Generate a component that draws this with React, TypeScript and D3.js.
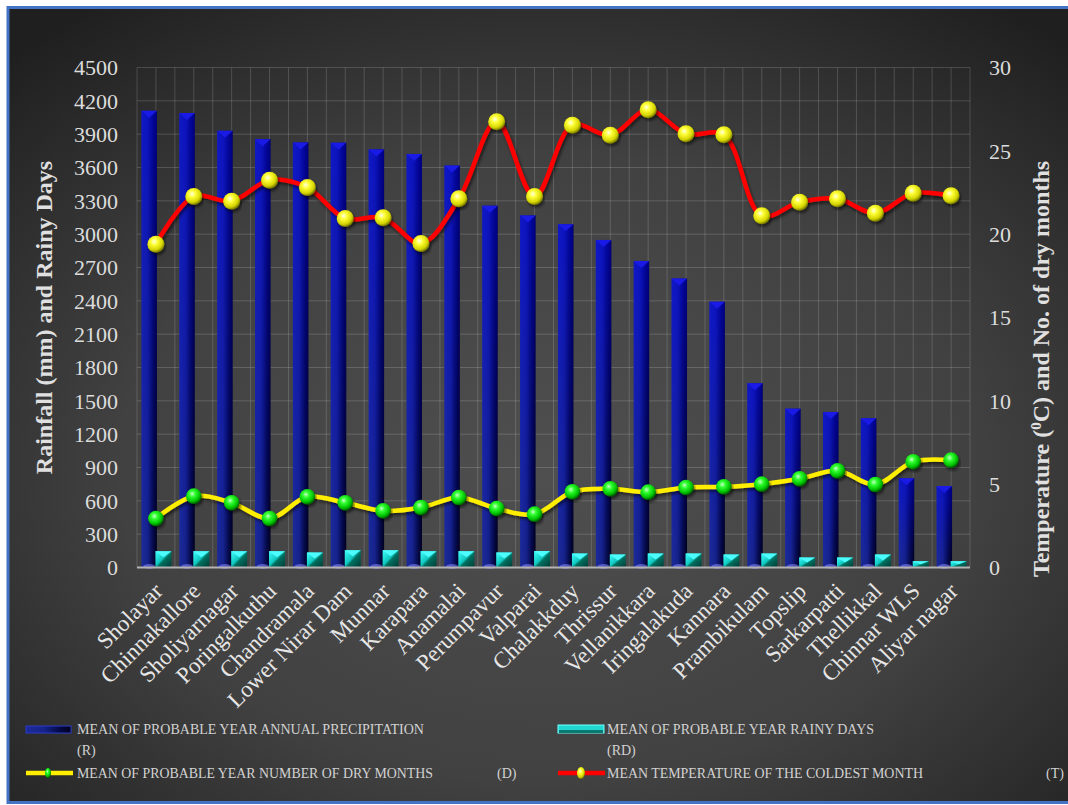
import React from "react";
import * as d3 from "d3";

const categories = [
  "Sholayar", "Chinnakallore", "Sholiyarnagar", "Poringalkuthu", "Chandramala",
  "Lower Nirar Dam", "Munnar", "Karapara", "Anamalai", "Perumpavur", "Valparai",
  "Chalakkduy", "Thrissur", "Vellanikkara", "Iringalakuda", "Kannara",
  "Prambikulam", "Topslip", "Sarkarpatti", "Thellikkal", "Chinnar WLS", "Aliyar nagar",
];
const rainfall = [4110, 4090, 3930, 3855, 3825, 3823, 3763, 3722, 3617, 3256, 3168, 3089, 2948, 2759, 2600, 2392, 1658, 1429, 1400, 1343, 803, 733];
const rainyDays = [147, 147, 147, 147, 135, 156, 156, 147, 147, 135, 148, 126, 117, 126, 126, 117, 126, 90, 90, 117, 57, 57];
const dryMonths = [2.94, 4.28, 3.88, 2.94, 4.24, 3.88, 3.4, 3.6, 4.2, 3.54, 3.2, 4.54, 4.72, 4.52, 4.8, 4.84, 5.0, 5.32, 5.8, 4.98, 6.34, 6.44];
const temperature = [19.4, 22.26, 21.98, 23.24, 22.8, 20.94, 20.98, 19.44, 22.12, 26.74, 22.26, 26.54, 25.94, 27.46, 26.02, 25.96, 21.1, 21.92, 22.12, 21.26, 22.46, 22.3];
const leftTicks = d3.range(0, 4501, 300);
const rightTicks = [0, 5, 10, 15, 20, 25, 30];

const W = 1068;
const H = 805;
const PL = 137, PR = 970, PT = 67.5, PB = 567.5;
const serif = '"Liberation Serif", "Times New Roman", "DejaVu Serif", serif';

export default function App() {
  const x = d3.scaleBand<string>().domain(categories).range([PL, PR]).padding(0);
  const bw = x.bandwidth();
  const yL = d3.scaleLinear().domain([0, 4500]).range([PB, PT]);
  const yR = d3.scaleLinear().domain([0, 30]).range([PB, PT]);
  const cx = (i: number) => (x(categories[i]) as number) + bw / 2;

  const curve = d3.curveCatmullRom.alpha(0.5);
  const tempLine = d3.line<number>().x((_, i) => cx(i)).y((d) => yR(d)).curve(curve)(temperature) || "";
  const dryLine = d3.line<number>().x((_, i) => cx(i)).y((d) => yR(d)).curve(curve)(dryMonths) || "";

  const vGrid = d3.range(0, categories.length * 2 + 1).map((k) => PL + (k * bw) / 2);

  const barW = 15.5;
  const tf = { fontFamily: serif };

  return (
    <svg width={W} height={H} style={{ position: "absolute", left: 0, top: 0, fontFamily: serif }}>
      <defs>
        <radialGradient id="bg" cx="50%" cy="58%" r="72%">
          <stop offset="0%" stopColor="#4f4f4f" />
          <stop offset="55%" stopColor="#414141" />
          <stop offset="100%" stopColor="#1f1f1f" />
        </radialGradient>
        <linearGradient id="blueBar" x1="0" y1="0" x2="1" y2="0">
          <stop offset="0%" stopColor="#1c2b98" />
          <stop offset="40%" stopColor="#16238a" />
          <stop offset="75%" stopColor="#050a45" />
          <stop offset="100%" stopColor="#00001a" />
        </linearGradient>
        <linearGradient id="blueOver" x1="0" y1="0" x2="0" y2="1">
          <stop offset="0%" stopColor="#0000ff" stopOpacity="0.45" />
          <stop offset="100%" stopColor="#0000ff" stopOpacity="0" />
        </linearGradient>
        <linearGradient id="cyanBar" x1="0" y1="0" x2="1" y2="1">
          <stop offset="0%" stopColor="#40ffff" />
          <stop offset="45%" stopColor="#10c8c0" />
          <stop offset="55%" stopColor="#007060" />
          <stop offset="100%" stopColor="#003a34" />
        </linearGradient>
        <radialGradient id="yball" cx="40%" cy="35%" r="65%">
          <stop offset="0%" stopColor="#ffffe6" />
          <stop offset="30%" stopColor="#ffff3a" />
          <stop offset="75%" stopColor="#d4d400" />
          <stop offset="100%" stopColor="#767600" />
        </radialGradient>
        <radialGradient id="gball" cx="40%" cy="35%" r="65%">
          <stop offset="0%" stopColor="#c8ffc8" />
          <stop offset="30%" stopColor="#30ff30" />
          <stop offset="75%" stopColor="#00c000" />
          <stop offset="100%" stopColor="#005a00" />
        </radialGradient>
        <filter id="shadow" x="-10%" y="-10%" width="120%" height="130%">
          <feDropShadow dx="1.5" dy="2.5" stdDeviation="1.5" floodColor="#000" floodOpacity="0.55" />
        </filter>
      </defs>

      {/* frame */}
      <rect x={8} y={7.5} width={W + 10} height={795} fill="url(#bg)" stroke="#4472c4" strokeWidth={3} />

      {/* gridlines */}
      <g stroke="#ffffff" strokeOpacity={0.16} strokeWidth={1}>
        {leftTicks.map((t) => (
          <line key={"h" + t} x1={PL} x2={PR} y1={yL(t)} y2={yL(t)} />
        ))}
        {vGrid.map((gx, k) => (
          <line key={"v" + k} x1={gx} x2={gx} y1={PT} y2={PB} />
        ))}
      </g>

      {/* blue bars */}
      {rainfall.map((v, i) => {
        const bx = cx(i) - 14.5;
        const top = yL(v);
        return (
          <g key={"b" + i}>
            <rect x={bx} y={top} width={barW} height={PB - top} fill="url(#blueBar)" />
            <rect x={bx} y={top} width={barW} height={PB - top} fill="url(#blueOver)" />
            <polygon points={`${bx},${top} ${bx + barW},${top} ${bx + barW / 2},${top + 7}`} fill="#1a1ae6" />
            <ellipse cx={bx + barW / 2} cy={PB - 1} rx={6} ry={2.5} fill="#8a8aff" fillOpacity={0.55} />
          </g>
        );
      })}

      {/* cyan bars */}
      {rainyDays.map((v, i) => {
        const bx = cx(i) - 0.5;
        const top = yL(v);
        const h = PB - top;
        return (
          <g key={"c" + i}>
            <rect x={bx} y={top} width={barW + 0.5} height={h} fill="url(#cyanBar)" />
            <polygon points={`${bx},${top} ${bx + barW + 0.5},${top} ${bx + (barW + 0.5) / 2},${top + Math.min(6, h / 2)}`} fill="#4dfcfc" />
          </g>
        );
      })}

      {/* baseline */}
      <line x1={PL} x2={PR} y1={PB} y2={PB} stroke="#b4b4b4" strokeWidth={2} />

      {/* dry months line */}
      <path d={dryLine} fill="none" stroke="#ffee00" strokeWidth={4.5} filter="url(#shadow)" />
      {dryMonths.map((v, i) => (
        <circle key={"d" + i} cx={cx(i)} cy={yR(v)} r={7.8} fill="url(#gball)" filter="url(#shadow)" />
      ))}

      {/* temperature line */}
      <path d={tempLine} fill="none" stroke="#ff0000" strokeWidth={4.5} filter="url(#shadow)" />
      {temperature.map((v, i) => (
        <circle key={"t" + i} cx={cx(i)} cy={yR(v)} r={8.5} fill="url(#yball)" filter="url(#shadow)" />
      ))}

      {/* left axis ticks */}
      <g fill="#dcdcdc" fontSize={22} textAnchor="end" style={tf}>
        {leftTicks.map((t) => (
          <text key={"lt" + t} x={118} y={yL(t)} dy="0.35em" style={tf}>{t}</text>
        ))}
      </g>
      {/* right axis ticks */}
      <g fill="#dcdcdc" fontSize={22} textAnchor="start" style={tf}>
        {rightTicks.map((t) => (
          <text key={"rt" + t} x={989} y={yR(t)} dy="0.35em" style={tf}>{t}</text>
        ))}
      </g>

      {/* axis titles */}
      <text transform={`translate(52,${(110 + 525) / 2}) rotate(-90)`} textAnchor="middle" fontSize={24} fontWeight="bold" fill="#e0e0e0" style={tf}>
        Rainfall (mm) and Rainy Days
      </text>
      <text transform={`translate(1049,${(148 + 590) / 2}) rotate(-90)`} textAnchor="middle" fontSize={24} fontWeight="bold" fill="#e0e0e0" style={tf}>
        Temperature (<tspan dy="-8" fontSize={15}>0</tspan><tspan dy="8">C) and No. of dry months</tspan>
      </text>

      {/* category labels */}
      <g fill="#e6e6e6" fontSize={23} textAnchor="end" style={tf}>
        {categories.map((c, i) => (
          <text key={"x" + i} transform={`translate(${cx(i) + 8},${PB + 25}) rotate(-45)`} style={tf}>{c}</text>
        ))}
      </g>

      {/* legend */}
      <g fontSize={14} fill="#d2d2d2" style={tf}>
        <rect x={26} y={726} width={45} height={7} fill="url(#blueBar)" stroke="#2a3ad0" strokeWidth={1} />
        <text x={77} y={734} textLength={347} lengthAdjust="spacingAndGlyphs" style={tf}>MEAN OF PROBABLE YEAR ANNUAL PRECIPITATION</text>
        <text x={77} y={755} style={tf}>(R)</text>

        <rect x={558} y={725} width={46} height={8} fill="#20d8d0" stroke="#70ffff" strokeWidth={1} />
        <rect x={559} y={730} width={44} height={3} fill="#0a7a70" />
        <text x={607} y={734} textLength={267} lengthAdjust="spacingAndGlyphs" style={tf}>MEAN OF PROBABLE YEAR RAINY DAYS</text>
        <text x={607} y={755} style={tf}>(RD)</text>

        <line x1={26} x2={73} y1={773} y2={773} stroke="#ffee00" strokeWidth={4.5} />
        <ellipse cx={48} cy={773} rx={3} ry={5} fill="url(#gball)" />
        <text x={77} y={778} textLength={356} lengthAdjust="spacingAndGlyphs" style={tf}>MEAN OF PROBABLE YEAR NUMBER OF DRY MONTHS</text>
        <text x={497} y={778} style={tf}>(D)</text>

        <line x1={558} x2={605} y1={773} y2={773} stroke="#ff0000" strokeWidth={4.5} />
        <ellipse cx={581} cy={773} rx={4} ry={6} fill="url(#yball)" />
        <text x={607} y={778} textLength={316} lengthAdjust="spacingAndGlyphs" style={tf}>MEAN TEMPERATURE OF THE COLDEST MONTH</text>
        <text x={1046} y={778} style={tf}>(T)</text>
      </g>
    </svg>
  );
}
